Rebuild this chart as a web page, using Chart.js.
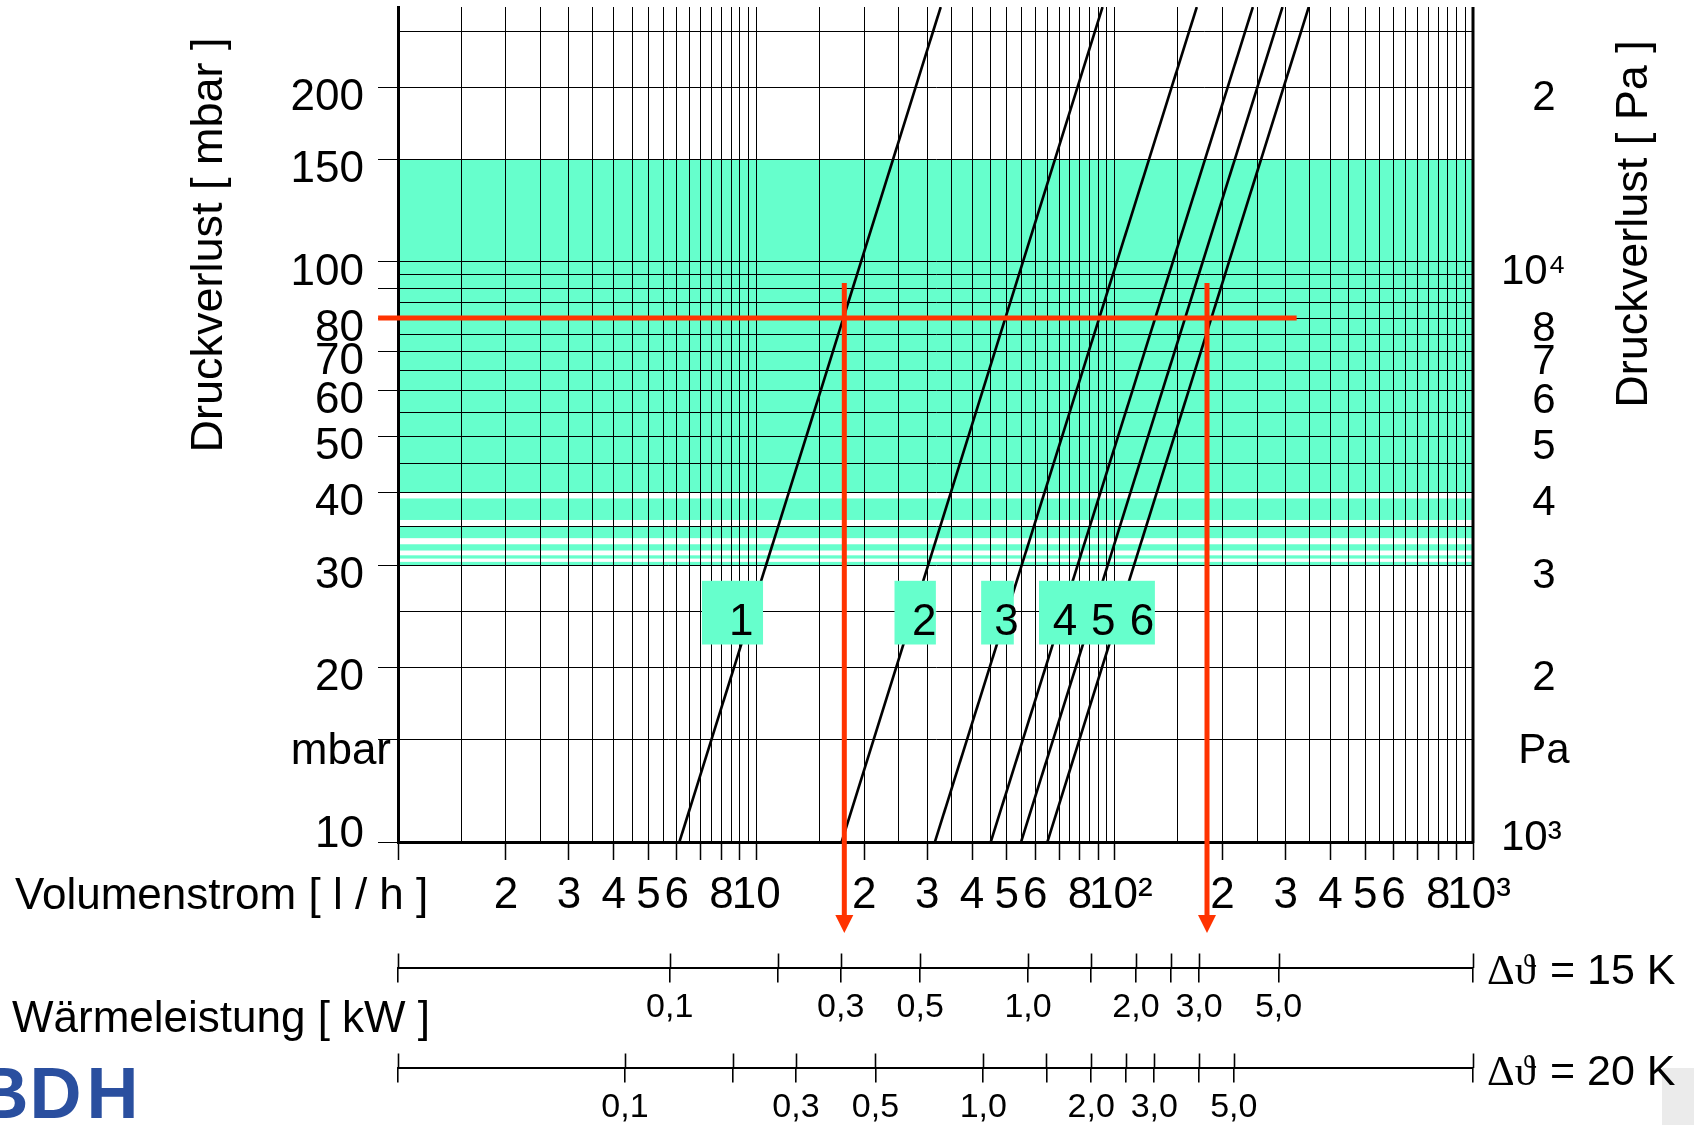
<!DOCTYPE html>
<html>
<head>
<meta charset="utf-8">
<script src="https://cdn.jsdelivr.net/npm/chart.js@4.4.1/dist/chart.umd.min.js"></script>
<style>
html,body{margin:0;padding:0;background:#fff;}
#wrap{position:relative;width:1694px;height:1125px;overflow:hidden;}
#patch{position:absolute;left:1662px;top:1068px;width:32px;height:57px;background:#ebebeb;}
canvas{position:absolute;left:0;top:0;}
</style>
</head>
<body>
<div id="wrap"><div id="patch"></div><canvas id="c" width="1694" height="1125"></canvas></div>
<script>
const SANS = '"Liberation Sans", Arial, Helvetica, "DejaVu Sans", sans-serif';
const SERIF = '"Liberation Serif", "Times New Roman", "DejaVu Serif", serif';
const TEAL = '#66ffcc';
const RED = '#ff3300';
const BLUE = '#2a4f9f';

// ---------- data ----------
const flowRange = [1, 1000];          // Volumenstrom [l/h]
const pressureRange = [10, 275];      // Druckverlust [mbar]
const curveNames = ['1', '2', '3', '4', '5', '6'];
const curveFlowAtMin = [6.1, 17.3, 31.5, 45.1, 54.8, 64.9];   // l/h at 10 mbar
const curveFlowAtMax = [32.7, 92.5, 169.5, 243, 294, 348];    // l/h at 275 mbar

// worked example (red construction)
const examplePressure = 80;           // mbar
const exampleLineFlows = [0.88, 322]; // l/h, extent of the horizontal red line
const exampleFlows = [17.6, 181];     // l/h, the two read-off points
const exampleDrop = [92, 7.26];       // mbar, extent of the vertical red lines
const exampleArrowTip = 6.97;         // mbar, tip of the arrow heads

// shaded band (mbar)
const shadedBands = [[40, 150], [35.9, 39.1], [33.4, 35.0], [31.8, 32.6], [30.8, 31.2], [30, 30.4]];

// curve label boxes
const curveLabelBoxes = [[7.05, 10.44], [24.3, 31.7], [42.4, 52.3], [61.5, 129.5]];
const curveLabelBoxPressure = [21.9, 28.2];
const curveLabelFlows = [9.07, 29.4, 49.9, 72.7, 92.9, 119.2];
const curveLabelPressure = 24.25;

// tick labels
const flowLabelValues = [2, 3, 4, 5, 6, 8, 10, 20, 30, 40, 50, 60, 80, 100, 200, 300, 400, 500, 600, 800, 1000];
const flowLabelTexts = ['2', '3', '4', '5', '6', '8', '10', '2', '3', '4', '5', '6', '8', ' 10²', '2', '3', '4', '5', '6', '8', ' 10³'];
const pressureLabelValues = [10, 20, 30, 40, 50, 60, 70, 80, 100, 150, 200];
const pressureLabelTexts = ['10', '20', '30', '40', '50', '60', '70', '80', '100', '150', '200'];
const paLabelValues = [1000, 2000, 3000, 4000, 5000, 6000, 7000, 8000, 10000, 20000];
const paLabelTexts = ['10³', '2', '3', '4', '5', '6', '7', '8', '10⁴', '2'];
const pressureTickMarkValues = [10, 15, 20, 30, 40, 50, 60, 70, 80, 90, 100, 150, 200];

// heat output scales
const waterHeat = 1.163;              // Wh/(l*K)
const heatDeltaT = [15, 20];          // K
const heatTicks15 = [0.1, 0.2, 0.3, 0.5, 1.0, 1.5, 2.0, 2.5, 3.0, 5.0];
const heatTicks20 = [0.1, 0.2, 0.3, 0.5, 1.0, 1.5, 2.0, 2.5, 3.0, 4.0, 5.0];
const heatLabelValues = [0.1, 0.3, 0.5, 1.0, 2.0, 3.0, 5.0];
const heatLabelTexts = ['0,1', '0,3', '0,5', '1,0', '2,0', '3,0', '5,0'];

// ---------- helpers ----------
function range(a, b, s) { const out = []; const n = Math.round((b - a) / s); for (let i = 0; i <= n; i++) out.push(+(a + i * s).toFixed(6)); return out; }
function uniq(arr) { return [...new Set(arr)].sort((p, q) => p - q); }
function has(arr, v) { return arr.some(a => Math.abs(a - v) <= Math.abs(v) * 1e-6); }
function lookup(vals, texts, v) { const i = vals.findIndex(a => Math.abs(a - v) <= Math.abs(v) * 1e-6); return i < 0 ? '' : texts[i]; }

const flowGridValues = uniq([...range(1, 10, 0.5), ...range(10, 100, 5), ...range(100, 1000, 50)]);
const flowTickMarkValues = uniq([...range(1, 10, 1), ...range(10, 100, 10), ...range(100, 1000, 100)]);
const pressureGridValues = uniq([...range(10, 100, 5), 150, 200, 250]);
const heatMin = dT => flowRange[0] * waterHeat * dT / 1000;
const heatMax = dT => flowRange[1] * waterHeat * dT / 1000;

// ---------- datasets ----------
const curveSets = curveNames.map((n, i) => ({
  label: 'Kurve ' + n,
  data: [{x: curveFlowAtMin[i], y: pressureRange[0]}, {x: curveFlowAtMax[i], y: pressureRange[1]}],
  showLine: true, borderColor: '#000', borderWidth: 2.6, pointRadius: 0, fill: false, order: 2
}));
const redSets = [
  {
    label: 'Beispiel',
    data: [{x: exampleLineFlows[0], y: examplePressure}, {x: exampleLineFlows[1], y: examplePressure}],
    showLine: true, borderColor: RED, borderWidth: 5, pointRadius: 0, clip: false, order: 0
  },
  ...exampleFlows.map(f => ({
    label: 'Ablesung ' + f,
    data: [{x: f, y: exampleDrop[0]}, {x: f, y: exampleDrop[1]}],
    showLine: true, borderColor: RED, borderWidth: 5, pointRadius: 0, clip: false, order: 0
  }))
];

function heatScale(dT, ticksArr, weight, height, padding) {
  return {
    type: 'logarithmic', position: 'bottom', weight: weight,
    min: heatMin(dT), max: heatMax(dT),
    afterBuildTicks: s => { s.ticks = [heatMin(dT), ...ticksArr, heatMax(dT)].map(v => ({value: v})); },
    afterFit: s => { s.height = height; },
    grid: { drawOnChartArea: false, color: '#000', lineWidth: 1.6, tickLength: 14.5 },
    border: { display: true, color: '#000', width: 2 },
    ticks: { autoSkip: false, maxRotation: 0, minRotation: 0, padding: padding, color: '#000',
      font: {family: SANS, size: 34}, callback: v => lookup(heatLabelValues, heatLabelTexts, v) }
  };
}

const drawings = {
  id: 'drawings',
  beforeDraw(chart) {
    const {ctx, chartArea: a, scales: {y}} = chart;
    ctx.save();
    ctx.fillStyle = TEAL;
    shadedBands.forEach(([lo, hi]) => {
      const y1 = y.getPixelForValue(hi), y2 = y.getPixelForValue(lo);
      ctx.fillRect(a.left, y1, a.right - a.left, y2 - y1);
    });
    ctx.restore();
  },
  afterDatasetsDraw(chart) {
    const {ctx, scales: {x, y}} = chart;
    ctx.save();
    ctx.fillStyle = TEAL;
    const yt = y.getPixelForValue(curveLabelBoxPressure[1]);
    const yb = y.getPixelForValue(curveLabelBoxPressure[0]);
    curveLabelBoxes.forEach(([p, q]) => {
      const x1 = x.getPixelForValue(p), x2 = x.getPixelForValue(q);
      ctx.fillRect(x1, yt, x2 - x1, yb - yt);
    });
    ctx.fillStyle = '#000';
    ctx.font = '44px ' + SANS;
    ctx.textAlign = 'center';
    ctx.textBaseline = 'alphabetic';
    const ty = y.getPixelForValue(curveLabelPressure) + 15.75;
    curveNames.forEach((n, i) => ctx.fillText(n, x.getPixelForValue(curveLabelFlows[i]), ty));

    // arrow heads of the red read-off lines
    ctx.fillStyle = RED;
    const tip = y.getPixelForValue(exampleArrowTip);
    exampleFlows.forEach(f => {
      const px = x.getPixelForValue(f);
      ctx.beginPath();
      ctx.moveTo(px, tip);
      ctx.lineTo(px - 9, tip - 18);
      ctx.lineTo(px + 9, tip - 18);
      ctx.closePath();
      ctx.fill();
    });
    ctx.restore();
  },
  afterDraw(chart) {
    const {ctx, chartArea: a, scales} = chart;
    const {x, y, yPa, x15, x20} = scales;
    ctx.save();
    // right frame
    ctx.strokeStyle = '#000';
    ctx.lineWidth = 3;
    ctx.beginPath();
    ctx.moveTo(a.right, a.top);
    ctx.lineTo(a.right, a.bottom + 1.5);
    ctx.stroke();

    ctx.fillStyle = '#000';
    ctx.textBaseline = 'alphabetic';
    // left labels
    ctx.font = '44px ' + SANS;
    ctx.textAlign = 'right';
    pressureLabelValues.forEach((v, i) => {
      const py = y.getPixelForValue(v) + (v === pressureRange[0] ? 5 : 22.7);
      ctx.fillText(pressureLabelTexts[i], 364, py);
    });
    ctx.fillText('mbar', 391, y.getPixelForValue(15) + 23.7);
    // right labels
    ctx.font = '42px ' + SANS;
    paLabelValues.forEach((v, i) => {
      const py = yPa.getPixelForValue(v) + (v === paLabelValues[0] ? 8 : 22.5);
      const t = paLabelTexts[i];
      if (t.length > 1) { ctx.textAlign = 'left'; ctx.fillText(t, 1501, py); }
      else { ctx.textAlign = 'center'; ctx.fillText(t, 1544, py); }
    });
    ctx.textAlign = 'center';
    ctx.fillText('Pa', 1544, yPa.getPixelForValue(1500) + 23.5);

    // axis titles
    ctx.font = '45px ' + SANS;
    ctx.textAlign = 'center';
    ctx.save();
    ctx.translate(222, 245);
    ctx.rotate(-Math.PI / 2);
    ctx.fillText('Druckverlust [ mbar ]', 0, 0);
    ctx.restore();
    ctx.save();
    ctx.translate(1647, 224);
    ctx.rotate(-Math.PI / 2);
    ctx.fillText('Druckverlust [ Pa ]', 0, 0);
    ctx.restore();

    ctx.font = '44px ' + SANS;
    ctx.textAlign = 'left';
    ctx.fillText('Volumenstrom [ l / h ]', 15, x.top + 67.3);
    ctx.fillText('Wärmeleistung [ kW ]', 12, x15.top + 64);

    // upper halves of heat scale ticks
    ctx.lineWidth = 1.6;
    [x15, x20].forEach(s => {
      ctx.beginPath();
      s.ticks.forEach(t => {
        const px = Math.round(s.getPixelForValue(t.value)) + 0.5;
        ctx.moveTo(px, s.top - 14.5);
        ctx.lineTo(px, s.top);
      });
      ctx.stroke();
    });

    // delta-T captions
    [[x15, heatDeltaT[0], 16.3], [x20, heatDeltaT[1], 17]].forEach(([s, dT, off]) => {
      const by = s.top + off;
      ctx.font = '43px ' + SERIF;
      ctx.fillText('Δϑ', 1487, by);
      ctx.font = '43px ' + SANS;
      ctx.fillText('= ' + dT + ' K', 1550, by);
    });

    // logo
    ctx.fillStyle = BLUE;
    ctx.font = 'bold 72px ' + SANS;
    ctx.textAlign = 'left';
    ctx.fillText('B', -23.4, 1118);
    ctx.fillText('D', 29.5, 1118);
    ctx.fillText('H', 86.4, 1118);
    ctx.restore();
  }
};

new Chart(document.getElementById('c'), {
  type: 'scatter',
  data: { datasets: [...curveSets, ...redSets] },
  options: {
    responsive: false,
    animation: false,
    devicePixelRatio: 1,
    events: [],
    layout: { autoPadding: false, padding: { top: 7, left: 0, right: 0, bottom: 0 } },
    plugins: { legend: { display: false }, tooltip: { enabled: false }, title: { display: false } },
    scales: {
      x: {
        type: 'logarithmic', position: 'bottom', weight: 0,
        min: flowRange[0], max: flowRange[1],
        afterBuildTicks: s => { s.ticks = flowGridValues.map(v => ({value: v})); },
        afterFit: s => { s.height = 126; },
        grid: {
          color: '#000', lineWidth: 1, tickLength: 18, tickWidth: 1.5,
          tickColor: c => (c.tick && has(flowTickMarkValues, c.tick.value)) ? '#000' : 'rgba(0,0,0,0)'
        },
        border: { display: true, color: '#000', width: 3 },
        ticks: {
          autoSkip: false, maxRotation: 0, minRotation: 0, padding: 9, color: '#000',
          font: { family: SANS, size: 44 },
          callback: v => lookup(flowLabelValues, flowLabelTexts, v)
        }
      },
      x15: heatScale(heatDeltaT[0], heatTicks15, 1, 100, 5),
      x20: heatScale(heatDeltaT[1], heatTicks20, 2, 57, 5),
      y: {
        type: 'logarithmic', position: 'left',
        min: pressureRange[0], max: pressureRange[1],
        afterBuildTicks: s => { s.ticks = pressureGridValues.map(v => ({value: v})); },
        afterFit: s => { s.width = 398; },
        grid: {
          color: '#000', lineWidth: 1, tickLength: 20, tickWidth: 1,
          tickColor: c => (c.tick && has(pressureTickMarkValues, c.tick.value)) ? '#000' : 'rgba(0,0,0,0)'
        },
        border: { display: true, color: '#000', width: 3 },
        ticks: { display: false }
      },
      yPa: {
        type: 'logarithmic', position: 'right',
        min: pressureRange[0] * 100, max: pressureRange[1] * 100,
        afterFit: s => { s.width = 221; },
        grid: { display: false },
        border: { display: false },
        ticks: { display: false }
      }
    }
  },
  plugins: [drawings]
});
</script>
</body>
</html>
